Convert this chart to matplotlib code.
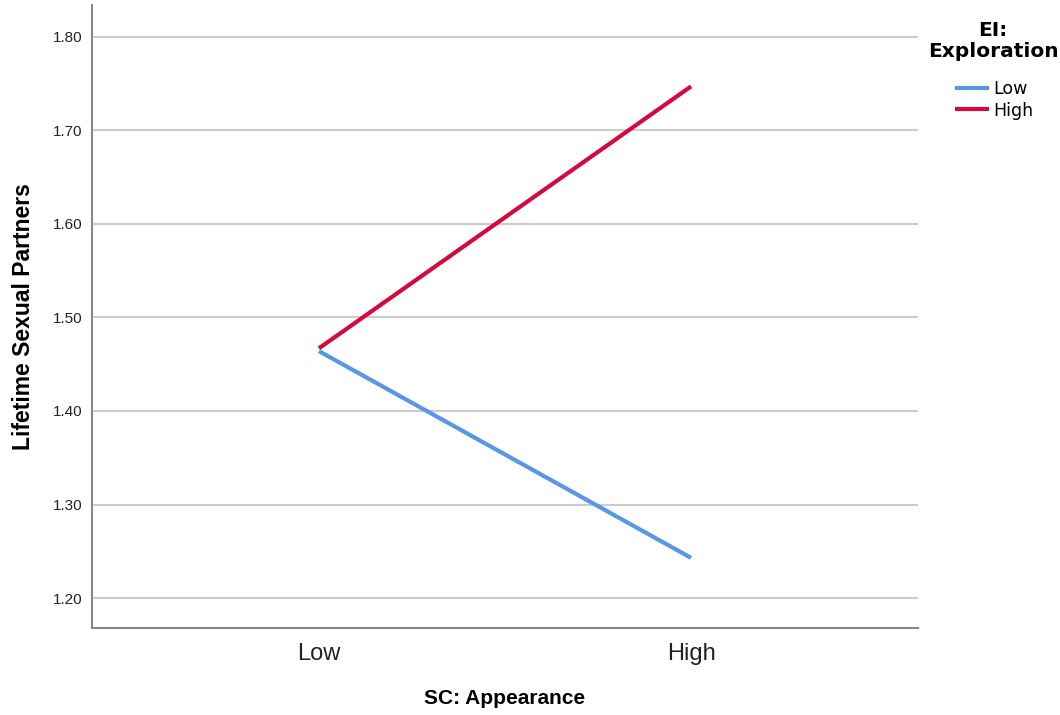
import matplotlib.pyplot as plt

plt.rcParams['font.family'] = ['Liberation Sans', 'DejaVu Sans']

# dados
categorias = ["Low", "High"]
serie_low = [1.464, 1.243]
serie_high = [1.467, 1.747]
yticks = [1.20, 1.30, 1.40, 1.50, 1.60, 1.70, 1.80]
cor_low = '#5a96e6'
cor_high = '#d40a3c'

fig = plt.figure(figsize=(10.6, 7.15), dpi=100)
ax = fig.add_axes([92/1060, 1-628/715, (918-92)/1060, (628-5)/715])

x = range(len(categorias))
ax.plot(x, serie_low, color=cor_low, lw=3, label="Low", solid_capstyle='butt')
ax.plot(x, serie_high, color=cor_high, lw=3, label="High", solid_capstyle='butt')

ax.set_xlim(-0.61, 1.61)
ax.set_ylim(1.168, 1.834)
ax.set_xticks(list(x))
ax.set_xticklabels(categorias, fontsize=17, color='#222222')
ax.set_yticks(yticks)
ax.set_yticklabels(["{:.2f}".format(v) for v in yticks], fontsize=11, color='#222222')
ax.tick_params(length=0)
ax.tick_params(axis='x', pad=11)
ax.tick_params(axis='y', pad=7)

ax.yaxis.grid(True, color='#cccccc', lw=1.5)
ax.set_axisbelow(True)
for s in ['top', 'right']:
    ax.spines[s].set_visible(False)
for s in ['left', 'bottom']:
    ax.spines[s].set_color('#888888')
    ax.spines[s].set_linewidth(1.5)

ax.set_xlabel("SC: Appearance", fontsize=15, fontweight='bold', labelpad=17)
ax.set_ylabel("Lifetime Sexual Partners", fontsize=16.5, fontweight='bold', labelpad=13)

# titulo da legenda separado, centrado
fig.text(993/1060, 1-41/715, "EI:\nExploration", ha='center', va='center',
         multialignment='center', family='DejaVu Sans', fontweight='bold',
         fontsize=14.5, linespacing=1.1)

leg = ax.legend(loc='upper left', bbox_to_anchor=(946/1060, 1-71/715),
                bbox_transform=fig.transFigure, frameon=False,
                prop={'family': 'DejaVu Sans', 'size': 12.5},
                handlelength=2.0, handletextpad=0.2, labelspacing=0.22, borderpad=0)

fig.savefig("out.png", dpi=100)
